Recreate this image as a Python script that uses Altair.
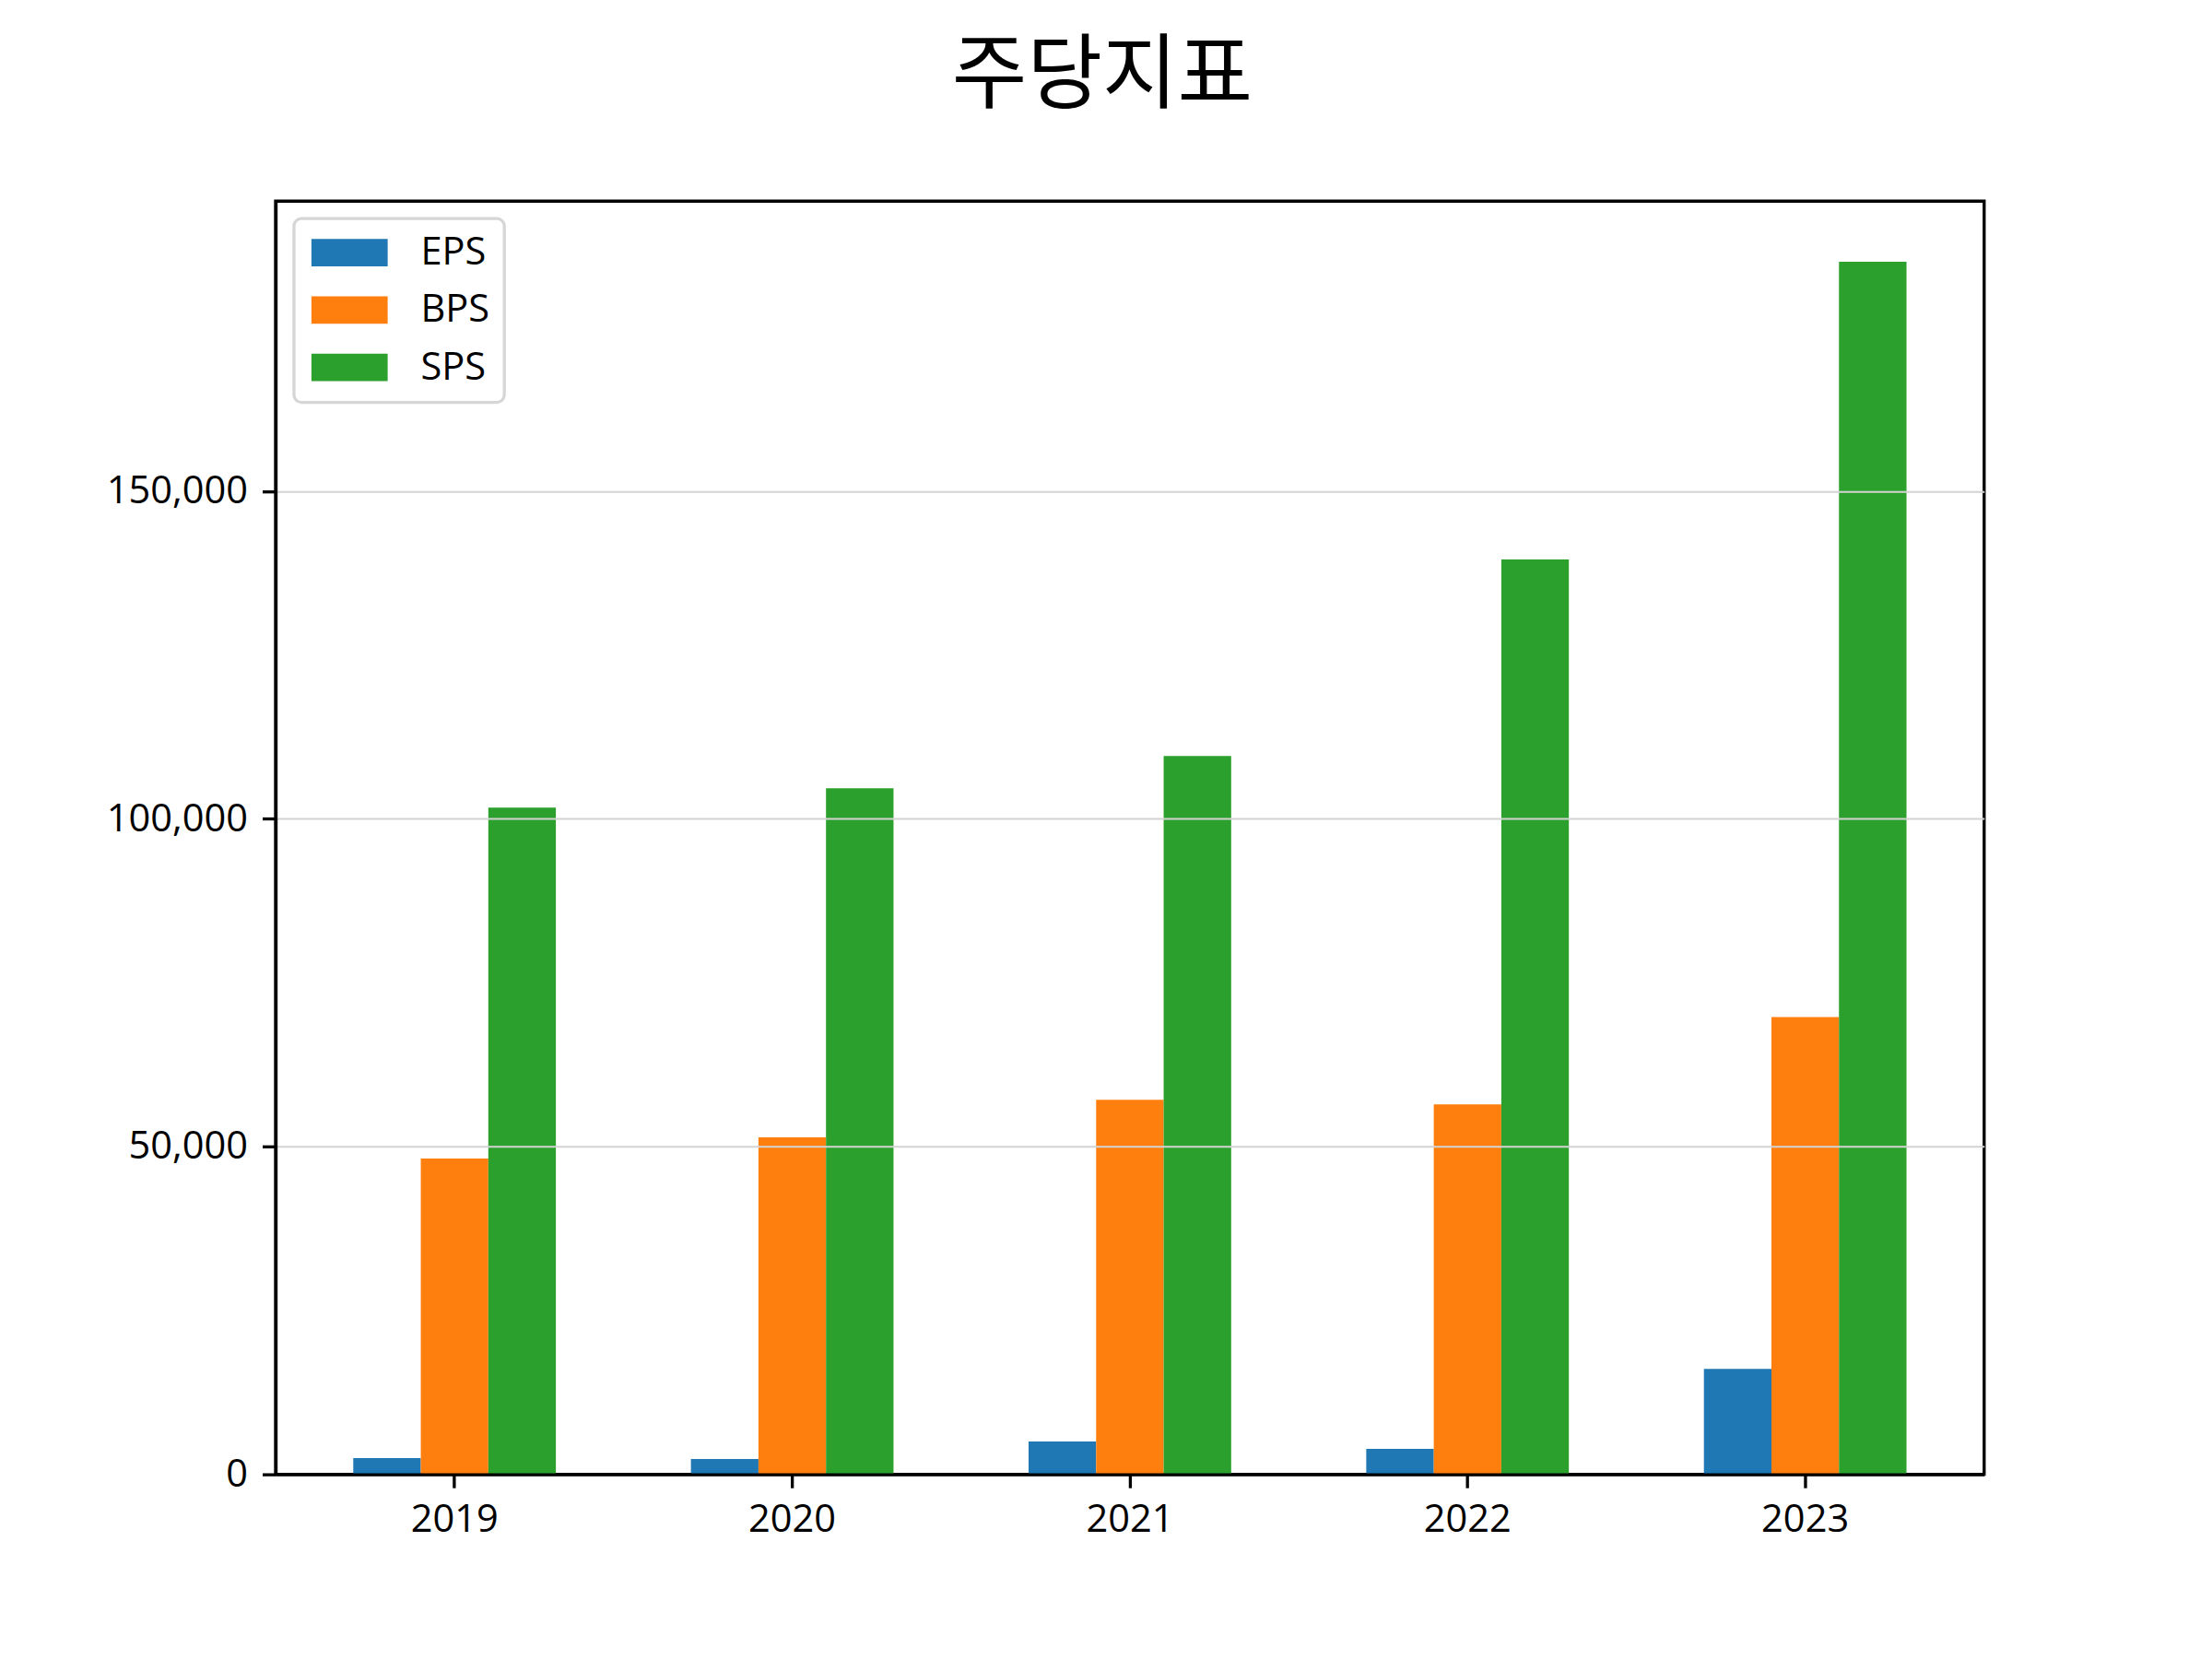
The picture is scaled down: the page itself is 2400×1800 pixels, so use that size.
import altair as alt
import pandas as pd

# ---- data ----
years = ["2019", "2020", "2021", "2022", "2023"]
series = ["EPS", "BPS", "SPS"]
eps = [2480, 2340, 5000, 3880, 16080]
bps = [48180, 51400, 57150, 56450, 69760]
sps = [101720, 104660, 109570, 139570, 184980]
colors = ["#1f77b4", "#ff7f0e", "#2ca02c"]
y_ticks = [0, 50000, 100000, 150000]
title_text = "주당지표"

rows = []
for name, vals in zip(series, [eps, bps, sps]):
    for yr, v in zip(years, vals):
        rows.append({"year": yr, "series": name, "value": v})
df = pd.DataFrame(rows)

ymax = max(eps + bps + sps) * 1.05

FONT = "Open Sans"
LW = 3.33
FS = 41.7
TICK = 14.6

chart = (
    alt.Chart(df)
    .mark_bar()
    .encode(
        x=alt.X(
            "year:N",
            sort=years,
            scale=alt.Scale(paddingInner=0.4, paddingOuter=0.23),
            axis=alt.Axis(
                title=None,
                labelAngle=0,
                bandPosition=0.5,
                grid=False,
                zindex=2,
                domainColor="black",
                domainWidth=LW,
                tickColor="black",
                tickWidth=LW,
                tickSize=TICK,
                labelPadding=14,
                labelFont=FONT,
                labelFontSize=FS,
                labelColor="black",
            ),
        ),
        xOffset=alt.XOffset(
            "series:N", sort=series, scale=alt.Scale(paddingInner=0, paddingOuter=0)
        ),
        y=alt.Y(
            "value:Q",
            scale=alt.Scale(domain=[0, ymax], nice=False, zero=True),
            axis=alt.Axis(
                title=None,
                values=y_ticks,
                format=",.0f",
                grid=True,
                gridColor="#d3d3d3",
                gridWidth=2,
                zindex=1,
                domainColor="black",
                domainWidth=LW,
                tickColor="black",
                tickWidth=LW,
                tickSize=TICK,
                labelPadding=16,
                labelFont=FONT,
                labelFontSize=FS,
                labelColor="black",
            ),
        ),
        color=alt.Color(
            "series:N",
            sort=series,
            scale=alt.Scale(domain=series, range=colors),
            legend=alt.Legend(
                title=None,
                orient="none",
                legendX=20,
                legendY=19,
                direction="vertical",
                symbolType="M-1.976,-0.714L1.976,-0.714L1.976,0.714L-1.976,0.714Z",
                symbolSize=1764,
                symbolStrokeWidth=0,
                symbolOffset=23.5,
                labelOffset=56.5,
                labelFont=FONT,
                labelFontSize=FS,
                labelColor="black",
                rowPadding=19.5,
                padding=16,
                strokeColor="#d6d6d6",
                fillColor="rgba(255,255,255,0.8)",
                cornerRadius=8,
            ),
        ),
    )
    .properties(
        width=1860,
        height=1386,
        background="white",
        autosize=alt.AutoSizeParams(type="none"),
        padding={"left": 292, "top": 208, "right": 240, "bottom": 180},
        title=alt.TitleParams(
            text=title_text,
            font="Noto Sans CJK KR",
            fontSize=89,
            fontWeight="normal",
            color="black",
            anchor="middle",
            dx=-30,
            offset=20,
            baseline="alphabetic",
        ),
    )
    .configure_view(stroke="black", strokeWidth=LW)
    .configure_legend(strokeWidth=3.3)
)

chart.save("out.html", embed_options={"renderer": "svg", "actions": False})
